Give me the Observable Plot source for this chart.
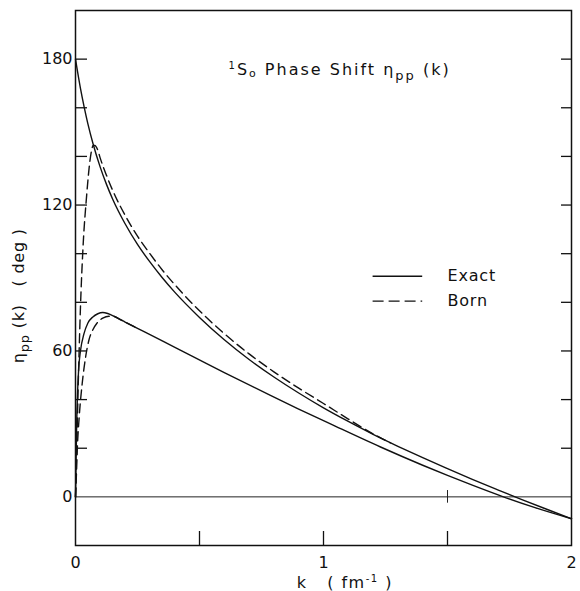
<!DOCTYPE html>
<html>
<head>
<meta charset="utf-8">
<script src="https://cdn.jsdelivr.net/npm/d3@7"></script>
<script src="https://cdn.jsdelivr.net/npm/@observablehq/plot@0.6"></script>
<style>
  html, body { margin: 0; padding: 0; background: #fff; }
  svg { display: block; }
  svg text { white-space: pre; }
</style>
</head>
<body>
<div id="chart"></div>
<script>
// ---- data ----
const exactUpperK   = [0, 0.02, 0.035, 0.05, 0.071, 0.1, 0.125, 0.15, 0.2, 0.25, 0.3, 0.35, 0.4, 0.5, 0.6, 0.7, 0.8, 0.9, 1.0, 1.1, 1.2, 1.3, 1.4, 1.5, 1.6, 1.7, 1.8, 1.9, 2];
const exactUpperDeg = [180, 168, 160.3, 153.4, 145.1, 135.5, 128.5, 122.4, 112.3, 103.8, 96.6, 90.1, 84.2, 73.8, 64.6, 56.5, 49.3, 42.7, 36.6, 31.0, 25.7, 20.8, 16.1, 11.6, 7.2, 3.0, -1.1, -5.1, -9];

const bornUpperK   = [0, 0.006, 0.012, 0.02, 0.03, 0.045, 0.058, 0.066, 0.071, 0.078, 0.09, 0.1, 0.125, 0.15, 0.2, 0.25, 0.3, 0.35, 0.4, 0.5, 0.6, 0.7, 0.8, 0.9, 1.0, 1.1, 1.2, 1.27];
const bornUpperDeg = [0, 25, 50, 78, 102, 124, 138, 143, 144.5, 144.5, 142.5, 139.2, 132.2, 126, 115.8, 107.2, 100, 93.3, 87.3, 76.5, 67.1, 58.8, 51.4, 44.7, 38.4, 32.0, 25.9, 22.2];

const exactLowerK   = [0, 0.002, 0.004, 0.008, 0.013, 0.02, 0.034, 0.05, 0.07, 0.09, 0.11, 0.13, 0.16, 0.2, 0.25, 0.35, 0.464, 0.6, 0.786, 0.9, 1.028, 1.23, 1.4, 1.5, 1.6, 1.72, 1.85, 2];
const exactLowerDeg = [0, 12, 26, 42, 53, 60, 67, 71.5, 74, 75.3, 75.8, 75.4, 74.0, 71.9, 69.3, 64.1, 58.2, 51.1, 41.7, 36.1, 30.0, 20.5, 13.0, 8.8, 4.8, 0.2, -4.35, -9];

const bornLowerK   = [0, 0.004, 0.007, 0.015, 0.027, 0.04, 0.054, 0.07, 0.087, 0.11, 0.135, 0.155, 0.18, 0.2, 0.25];
const bornLowerDeg = [0, 10, 19, 33, 46.6, 57, 64.4, 68.7, 71.5, 73.5, 74.3, 74.2, 72.9, 71.9, 69.3];

const yTickLabels = [0, 60, 120, 180];
const yMinorTicks = [20, 40, 60, 80, 100, 120, 140, 160, 180];
const xTickLabels = [0, 1, 2];
const xMinorTicks = [0.5, 1, 1.5];
const zeroLineTicks = [1.5];
const legendLabels = ["Exact", "Born"];

const titleParts  = [["1", "sup"], ["S", ""], ["o", "circ"], [" Phase Shift η", ""], ["pp", "sub"], [" (k)", ""]];
const yLabelParts = [["η", ""], ["pp", "sub"], [" (k)   ( deg )", ""]];
const xLabelParts = [["k   ( fm", ""], ["-1", "sup"], [" )", ""]];

// ---- build tables ----
const table = (ks, ds) => ks.map((k, i) => ({k, deg: ds[i]}));
const exactUpper = table(exactUpperK, exactUpperDeg);
const bornUpper  = table(bornUpperK, bornUpperDeg);
const exactLower = table(exactLowerK, exactLowerDeg);
const bornLower  = table(bornLowerK, bornLowerDeg);
const plain = parts => parts.map(p => p[0]).join("");

// ---- layout ----
const W = 580, H = 591, mL = 75, mR = 9, mT = 10, mB = 46;
const fw = W - mL - mR, fh = H - mT - mB;
const ink = "#111";
const dash = "9,5";

const svg = Plot.plot({
  width: W, height: H,
  marginLeft: mL, marginRight: mR, marginTop: mT, marginBottom: mB,
  style: {fontFamily: "DejaVu Sans, sans-serif", fontSize: "16px", background: "#fff", color: ink},
  x: {domain: [0, 2], ticks: xTickLabels, tickFormat: d3.format("d"), tickSize: 0, tickPadding: 11, label: null},
  y: {domain: [-20, 200], ticks: yTickLabels, tickFormat: d3.format("d"), tickSize: 0, tickPadding: 3, label: null},
  marks: [
    Plot.ruleY([0], {stroke: "#222", strokeWidth: 1}),
    Plot.ruleX(zeroLineTicks, {x: d => d, y1: -2.6, y2: 2.6, stroke: "#222", strokeWidth: 1}),
    Plot.tickY(yMinorTicks, {y: d => d, insetRight: fw - 12, stroke: ink, strokeWidth: 1.3}),
    Plot.tickY(yMinorTicks, {y: d => d, insetLeft: fw - 10, stroke: ink, strokeWidth: 1.3}),
    Plot.tickX(xMinorTicks, {x: d => d, insetTop: fh - 14, stroke: ink, strokeWidth: 1.3}),
    Plot.line(exactUpper, {x: "k", y: "deg", curve: "monotone-x", stroke: ink, strokeWidth: 1.4}),
    Plot.line(exactLower, {x: "k", y: "deg", curve: "monotone-x", stroke: ink, strokeWidth: 1.4}),
    Plot.line(bornUpper, {x: "k", y: "deg", curve: "monotone-x", stroke: ink, strokeWidth: 1.4, strokeDasharray: dash}),
    Plot.line(bornLower, {x: "k", y: "deg", curve: "monotone-x", stroke: ink, strokeWidth: 1.4, strokeDasharray: dash}),
    Plot.frame({stroke: ink, strokeWidth: 1.5}),
    // title
    Plot.text([plain(titleParts)], {x: 0.617, y: 175.5, text: d => d, textAnchor: "start", lineAnchor: "middle", fontSize: 16}),
    // legend
    Plot.ruleY([90.7], {x1: 1.2, x2: 1.4, stroke: ink, strokeWidth: 1.4}),
    Plot.ruleY([80.5], {x1: 1.2, x2: 1.4, stroke: ink, strokeWidth: 1.4, strokeDasharray: "11,5"}),
    Plot.text(legendLabels, {x: 1.5, y: (d, i) => [90.7, 80.5][i], text: d => d, textAnchor: "start", lineAnchor: "middle", fontSize: 16}),
    // axis labels (centred precisely after rendering)
    Plot.text([plain(yLabelParts)], {frameAnchor: "left", text: d => d, textAnchor: "middle", lineAnchor: "middle", rotate: -90, fontSize: 16}),
    Plot.text([plain(xLabelParts)], {frameAnchor: "bottom", text: d => d, textAnchor: "middle", lineAnchor: "middle", fontSize: 16})
  ]
});

// rich text: superscripts / subscripts, letter spacing
function richify(root, parts, spacing) {
  const p = plain(parts);
  let found = null;
  d3.select(root).selectAll("text").filter(function () { return this.textContent === p; }).each(function () {
    const t = d3.select(this);
    t.text(null).attr("xml:space", "preserve").style("letter-spacing", spacing + "px");
    for (const [s, kind] of parts) {
      const ts = t.append("tspan").text(s);
      if (kind === "sup") ts.attr("baseline-shift", 6).attr("font-size", 10);
      else if (kind === "sub") ts.attr("baseline-shift", -5).attr("font-size", 13);
      else if (kind === "circ") ts.attr("baseline-shift", -2).attr("font-size", 11);
    }
    found = this;
  });
  return found;
}
const titleEl = richify(svg, titleParts, 2);
const yLabelEl = richify(svg, yLabelParts, 0.8);
const xLabelEl = richify(svg, xLabelParts, 1.5);
d3.select(svg).selectAll("text").filter(function () { return legendLabels.includes(this.textContent); })
  .style("letter-spacing", "0.8px");

document.getElementById("chart").appendChild(svg);

// centre a text element on a given point of the picture
function centreAt(el, cx, cy) {
  if (!el) return;
  const s = svg.getBoundingClientRect();
  const r = el.getBoundingClientRect();
  const curX = r.left + r.width / 2 - s.left;
  const curY = r.top + r.height / 2 - s.top;
  const g = document.createElementNS("http://www.w3.org/2000/svg", "g");
  el.parentNode.insertBefore(g, el);
  g.appendChild(el);
  g.setAttribute("transform", `translate(${cx - curX},${cy - curY})`);
}
centreAt(yLabelEl, 20, mT + fh * 0.534);
centreAt(xLabelEl, mL + fw * 0.544, H - 9);
</script>
</body>
</html>
